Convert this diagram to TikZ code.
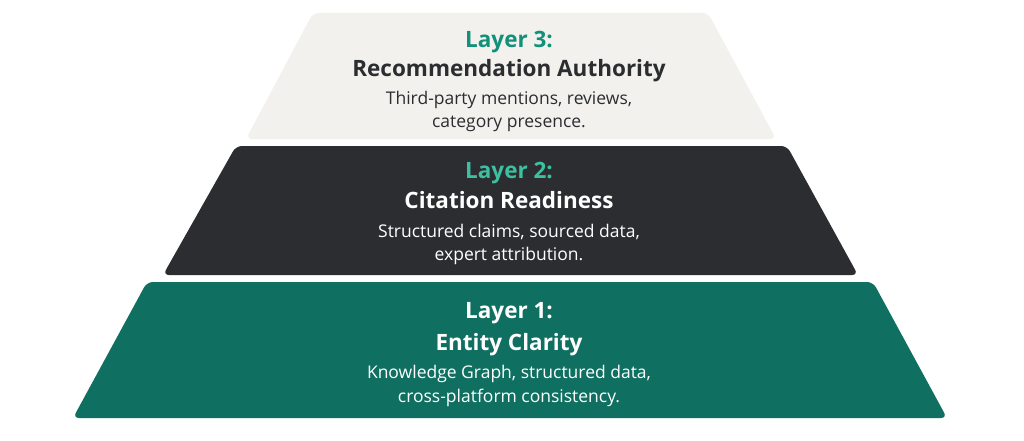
\documentclass[tikz,border=0pt]{standalone}
\usepackage{fontspec}
\setmainfont{Open Sans}
\definecolor{beige}{HTML}{F3F1ED}
\definecolor{dark}{HTML}{2B2D30}
\definecolor{teal1}{HTML}{0F7062}
\definecolor{tealtxt}{HTML}{12907A}
\definecolor{teallight}{HTML}{3DBFA0}
\begin{document}
\begin{tikzpicture}[x=1pt,y=-1pt,
  layer/.style={rounded corners=6pt},
  lbl/.style={font=\fontsize{22.5}{26}\selectfont\bfseries, inner sep=0pt, anchor=base},
  ttl/.style={font=\fontsize{22.5}{26}\selectfont\bfseries, inner sep=0pt, anchor=base},
  desc/.style={font=\fontsize{17.5}{24}\selectfont, inner sep=0pt, anchor=base}]
\useasboundingbox[fill=white] (0,0) rectangle (1024,441);
% layer 3
\fill[layer, beige] (313,13) -- (708,13) -- (776,139) -- (246,139) -- cycle;
\node[lbl, text=tealtxt] (l3a) at (509,48) {Layer 3:};
\node[ttl, text=dark] (l3b) at (509,77) {Recommendation Authority};
\node[desc, text=dark] (l3c) at (509,105) {Third-party mentions, reviews,};
\node[desc, text=dark] (l3d) at (509,128) {category presence.};
% layer 2
\fill[layer, dark] (236,146) -- (787,146) -- (858,275) -- (163,275) -- cycle;
\node[lbl, text=teallight] (l2a) at (509,178) {Layer 2:};
\node[ttl, text=white] (l2b) at (509,208) {Citation Readiness};
\node[desc, text=white] (l2c) at (509,237) {Structured claims, sourced data,};
\node[desc, text=white] (l2d) at (509,260) {expert attribution.};
% layer 1
\fill[layer, teal1] (147,282) -- (873,282) -- (947,418) -- (73,418) -- cycle;
\node[lbl, text=white] (l1a) at (509,318) {Layer 1:};
\node[ttl, text=white] (l1b) at (509,350) {Entity Clarity};
\node[desc, text=white] (l1c) at (509,378) {Knowledge Graph, structured data,};
\node[desc, text=white] (l1d) at (509,402) {cross-platform consistency.};
\end{tikzpicture}
\end{document}
